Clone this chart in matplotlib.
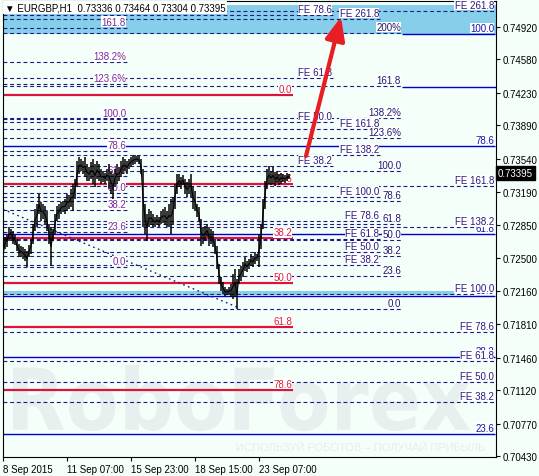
import matplotlib
matplotlib.use('Agg')
import matplotlib.pyplot as plt
from matplotlib.textpath import TextPath
from matplotlib.font_manager import FontProperties
from matplotlib.patches import PathPatch
from matplotlib.transforms import Affine2D, blended_transform_factory, offset_copy

plt.rcParams['font.family'] = ['Liberation Sans', 'DejaVu Sans']

# ---------------- data ----------------
title_text = "EURGBP,H1  0.73336 0.73464 0.73304 0.73395"
last_price = 0.73395

bar_index = list(range(0, 287, 2))
highs = [0.72670, 0.72722, 0.72743, 0.72827, 0.72806, 0.72785, 0.72743, 0.72701, 0.72649, 0.72628,
         0.72617, 0.72596, 0.72576, 0.72638, 0.72701, 0.72858, 0.73015, 0.73068, 0.73172, 0.73088,
         0.73068, 0.73047, 0.72994, 0.72858, 0.72827, 0.72806, 0.72963, 0.73047, 0.73068, 0.73088,
         0.73099, 0.73120, 0.73172, 0.73162, 0.73224, 0.73277, 0.73329, 0.73518, 0.73559, 0.73538,
         0.73518, 0.73559, 0.73486, 0.73455, 0.73507, 0.73538, 0.73486, 0.73518, 0.73486, 0.73434,
         0.73413, 0.73392, 0.73434, 0.73486, 0.73413, 0.73381, 0.73434, 0.73486, 0.73455, 0.73518,
         0.73559, 0.73538, 0.73518, 0.73538, 0.73559, 0.73570, 0.73580, 0.73570, 0.73570, 0.73538,
         0.73434, 0.73068, 0.72963, 0.73015, 0.72994, 0.72963, 0.72931, 0.72952, 0.72931, 0.72994,
         0.73015, 0.73036, 0.72994, 0.73068, 0.73120, 0.73141, 0.73277, 0.73381, 0.73381, 0.73350,
         0.73371, 0.73329, 0.73298, 0.73329, 0.73381, 0.73256, 0.73204, 0.73068, 0.73036, 0.72910,
         0.72827, 0.72837, 0.72858, 0.72827, 0.72806, 0.72785, 0.72701, 0.72628, 0.72439, 0.72303,
         0.72251, 0.72199, 0.72178, 0.72199, 0.72230, 0.72335, 0.72387, 0.72282, 0.72387, 0.72419,
         0.72460, 0.72513, 0.72471, 0.72492, 0.72544, 0.72513, 0.72565, 0.72544, 0.72753, 0.72858,
         0.73120, 0.73308, 0.73434, 0.73465, 0.73413, 0.73455, 0.73402, 0.73413, 0.73381, 0.73392,
         0.73381, 0.73371, 0.73392, 0.73381]
lows = [0.72387, 0.72596, 0.72617, 0.72680, 0.72701, 0.72649, 0.72638, 0.72576, 0.72513, 0.72513,
        0.72492, 0.72471, 0.72408, 0.72513, 0.72544, 0.72649, 0.72785, 0.72827, 0.72963, 0.72890,
        0.72910, 0.72858, 0.72785, 0.72649, 0.72419, 0.72680, 0.72753, 0.72890, 0.72910, 0.72963,
        0.72984, 0.72963, 0.72994, 0.73015, 0.73036, 0.72994, 0.73120, 0.73245, 0.73381, 0.73413,
        0.73381, 0.73350, 0.73308, 0.73308, 0.73329, 0.73277, 0.73245, 0.73329, 0.73308, 0.73277,
        0.73298, 0.73277, 0.73308, 0.73224, 0.73172, 0.73120, 0.73245, 0.73277, 0.73308, 0.73350,
        0.73381, 0.73413, 0.73381, 0.73434, 0.73455, 0.73476, 0.73486, 0.73507, 0.73486, 0.73381,
        0.72827, 0.72753, 0.72680, 0.72827, 0.72848, 0.72827, 0.72827, 0.72848, 0.72827, 0.72858,
        0.72869, 0.72848, 0.72827, 0.72827, 0.72753, 0.72858, 0.73015, 0.73172, 0.73245, 0.73224,
        0.73266, 0.73172, 0.73141, 0.73172, 0.73141, 0.73015, 0.72994, 0.72931, 0.72890, 0.72628,
        0.72649, 0.72680, 0.72722, 0.72628, 0.72649, 0.72617, 0.72544, 0.72387, 0.72230, 0.72157,
        0.72125, 0.72104, 0.72115, 0.72115, 0.72094, 0.72073, 0.72094, 0.71968, 0.72230, 0.72262,
        0.72303, 0.72366, 0.72356, 0.72387, 0.72419, 0.72408, 0.72439, 0.72471, 0.72408, 0.72596,
        0.72806, 0.73015, 0.73224, 0.73277, 0.73266, 0.73277, 0.73256, 0.73287, 0.73266, 0.73277,
        0.73298, 0.73287, 0.73308, 0.73329]

xtick_pos = [0, 64, 128, 192, 256]
xtick_labels = ["8 Sep 2015", "11 Sep 07:00", "15 Sep 23:00", "18 Sep 15:00", "23 Sep 07:00"]
ytick_vals = [0.74920, 0.74580, 0.74230, 0.73890, 0.73540, 0.73190, 0.72850,
              0.72500, 0.72160, 0.71810, 0.71460, 0.71120, 0.70770, 0.70430]

# Fibonacci retracement tools: price at 0% and at 100%
fibA_p0, fibA_p100 = 0.72408, 0.73957
fibA_levels = [0, 23.6, 38.2, 50, 61.8, 78.6, 100, 123.6, 138.2, 161.8]
fibA_labels = ["0.0", "23.6", "38.2", "50.0", "61.8", "78.6", "100.0", "123.6%", "138.2%", "161.8"]

fibB_p0, fibB_p100 = 0.71968, 0.73413
fibB_levels = [0, 23.6, 38.2, 50, 61.8, 78.6, 100, 123.6, 138.2, 161.8, 200]
fibB_labels = ["0.0", "23.6", "38.2", "50.0", "61.8", "78.6", "100.0", "123.6%", "138.2%", "161.8", "200%"]

fibR_p0, fibR_p100 = 0.74208, 0.70284
fibR_levels = [0, 23.6, 38.2, 50, 61.8, 78.6]
fibR_labels = ["0.0", "23.6", "38.2", "50.0", "61.8", "78.6"]

fibD_p0, fibD_p100 = 0.69373, 0.74847
fibD_levels = [23.6, 38.2, 50, 61.8, 78.6, 100]
fibD_labels = ["23.6", "38.2", "50.0", "61.8", "78.6", "100.0"]

# Fibonacci expansions
fe1_p0, fe1_p100 = 0.71974, 0.75878
fe1_levels = [38.2, 50, 61.8, 78.6]
fe2_p0, fe2_p100 = 0.71989, 0.73141
fe2_levels = [38.2, 50, 61.8, 78.6, 100, 138.2, 161.8, 261.8]
fe3_p0, fe3_p100 = 0.70294, 0.72125
fe3_levels = [38.2, 50, 61.8, 78.6, 100, 138.2, 161.8, 261.8]

extra_blue_line = 0.74292
top_band = (0.74847, 0.75150)
low_band = (0.72120, 0.72157)

# ---------------- figure ----------------
BG = '#f5fffa'
NAVY = '#1a1a80'
W, H = 539, 477
fig = plt.figure(figsize=(W / 100, H / 100), dpi=100, facecolor=BG)
ax = fig.add_axes([3 / W, 19 / H, 493 / W, 456 / H], facecolor=BG)
ax.set_xlim(0, 493)
ax.set_ylim(0.70420, 0.75192)
ax.autoscale(False)

FS = 7
lab_kw = dict(fontsize=FS, ha='right', va='bottom', zorder=3,
              bbox=dict(fc='white', ec='none', pad=0.2))
up = offset_copy(ax.transData, fig=fig, x=0, y=1.0, units='dots')

# bands
ax.axhspan(*top_band, color='#87ceeb', zorder=1, lw=0)
ax.fill_between([0, 452], low_band[0], low_band[1], color='#87ceeb', zorder=1, lw=0)

dash = (0, (3.5, 2.5))


def tool(p0, p100, levels, labels, x1, lcolor, ls, lw, tcolor, xstart=0, xstarts=None):
    for i, (L, lab) in enumerate(zip(levels, labels)):
        pr = p0 + (p100 - p0) * L / 100.0
        xs = xstart if xstarts is None else xstarts[i]
        ax.hlines(pr, xs, x1, colors=lcolor, linestyles=ls, lw=lw, zorder=2)
        ax.text(x1 - 1, pr, lab, color=tcolor, transform=up, **lab_kw)


tool(fibA_p0, fibA_p100, fibA_levels, fibA_labels, 124, NAVY, dash, 0.8, '#7a2a9a')
tool(fibB_p0, fibB_p100, fibB_levels, fibB_labels, 399, NAVY, dash, 0.8, '#1c1c70')
tool(fe1_p0, fe1_p100, fe1_levels, ["FE %.1f" % v for v in fe1_levels], 330, NAVY, dash, 0.8, '#2c1a80')
tool(fe2_p0, fe2_p100, fe2_levels, ["FE %.1f" % v for v in fe2_levels], 377, NAVY, dash, 0.8, '#2c1a80')
tool(fibR_p0, fibR_p100, fibR_levels, fibR_labels, 290, '#dc143c', '-', 1.6, '#e0203c')
tool(fibD_p0, fibD_p100, fibD_levels, fibD_labels, 492, '#0000cd', '-', 1.0, '#1414b4',
     xstarts=[0, 0, 0, 0, 0, 399])
tool(fe3_p0, fe3_p100, fe3_levels, ["FE %.1f" % v for v in fe3_levels], 492, NAVY, dash, 0.8, '#2c1a80')
ax.hlines(extra_blue_line, 399, 493, colors='#0000cd', lw=1.0, zorder=2)

# dotted anchor line
ax.plot([0, 234], [0.73012, 0.71989], color=NAVY, ls=(0, (1.2, 2.5)), lw=1.0, zorder=2)

# price bars
mids = [(h + l) / 2 for h, l in zip(highs, lows)]
ax.vlines(bar_index, lows, highs, colors='black', lw=1.1, zorder=4)
ax.plot(bar_index, mids, color='black', lw=0.8, zorder=4)

# arrow
ax.annotate('', xy=(338, 0.75025), xytext=(303, 0.73570),
            arrowprops=dict(arrowstyle='-|>,head_length=0.7,head_width=0.3', lw=3.0,
                            color='#e81e25', mutation_scale=20, shrinkA=0, shrinkB=0),
            zorder=6)

# watermark
fp = FontProperties(family='DejaVu Sans', weight='bold')
tp = TextPath((0, 0), 'RoboForex', size=100, prop=fp)
ext = tp.get_extents()
tr = (Affine2D().translate(-ext.x0, -ext.y0)
      .scale((470 - 13) / ext.width, (432 - 366) / ext.height)
      .translate(13, H - 432))
wm = PathPatch(tp, transform=tr, fc='#e8efef', ec='none', zorder=0.5)
ax.add_artist(wm)
ax.text((236 - 3) / 493, (458 - 448) / 456, 'ИСПОЛЬЗУЙ РОБОТОВ – ПОЛУЧАЙ ПРИБЫЛЬ',
        transform=ax.transAxes, fontsize=8, color='#e6eded', ha='left', va='center', zorder=0.6)

# title
ax.text(0.004, 0.9855, '\u25BC ' + title_text, transform=ax.transAxes, fontsize=FS,
        ha='left', va='center', zorder=8, family=['Liberation Sans', 'DejaVu Sans'],
        bbox=dict(fc='white', ec='none', pad=1.2))

# axes styling
for s in ax.spines.values():
    s.set_color('black')
    s.set_linewidth(0.8)
ax.yaxis.tick_right()
ax.set_yticks(ytick_vals)
ax.set_yticklabels(["%.5f" % v for v in ytick_vals])
ax.set_xticks(xtick_pos)
ax.set_xticklabels(xtick_labels)
for t in ax.get_xticklabels():
    t.set_ha('left')
ax.tick_params(axis='both', direction='out', length=3, width=0.8, labelsize=FS, pad=2, colors='black')

# current price tag
bt = blended_transform_factory(ax.transAxes, ax.transData)
ax.text(1.004, last_price, "%.5f" % last_price, transform=bt, color='white', fontsize=FS,
        ha='left', va='center', clip_on=False, zorder=9,
        bbox=dict(fc='black', ec='black', pad=1.3))

fig.savefig('out.png', dpi=100, facecolor=BG)
